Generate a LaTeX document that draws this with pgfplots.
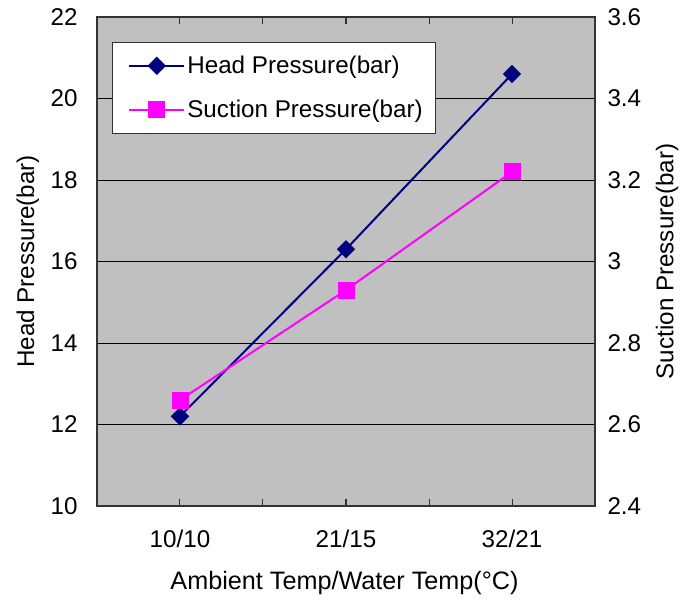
\documentclass[border=0pt]{standalone}
\usepackage{fontspec}
\setmainfont{Liberation Sans}
\usepackage{pgfplots}
\pgfplotsset{compat=1.18}

\definecolor{plotgray}{RGB}{192,192,192}
\definecolor{headblue}{RGB}{0,0,128}
\definecolor{suctionpink}{RGB}{255,0,255}

\pgfplotsset{
  common/.style={
    width=498pt, height=489pt, scale only axis,
    xmin=-0.5, xmax=2.5,
    font=\fontsize{24.2}{29}\selectfont,
    /pgf/number format/assume math mode=true,
    axis line style={black!80, line width=1.2pt},
    ytick style={draw=none},
  },
}

\begin{document}
\begin{tikzpicture}
\begin{axis}[
    common,
    name=main,
    axis background/.style={fill=plotgray},
    ymin=10, ymax=22,
    ytick={10,12,14,16,18,20,22},
    ymajorgrids=true,
    grid style={black, line width=0.8pt},
    xtick={0,1,2},
    xticklabels={10/10,21/15,32/21},
    minor xtick={0.5,1.5},
    tick align=inside,
    xtick style={black!80, line width=1pt},
    major tick length=7pt, minor tick length=7pt,
    xticklabel style={yshift=-20pt},
    yticklabel style={xshift=-16pt},
    ylabel={Head Pressure(bar)},
    ylabel style={at={(axis description cs:-0.139,0.5)}, anchor=center},
    xlabel={Ambient Temp/Water Temp(°C)},
    xlabel style={at={(axis description cs:0.497,-0.158)}, anchor=center,
        font=\fontsize{25.2}{30}\selectfont},
]
\addplot[headblue, line width=2pt, mark=square*, mark size=5.5pt,
    mark options={rotate=45}]
    coordinates {(0,12.2) (1,16.3) (2,20.6)};
\end{axis}

\begin{axis}[
    common,
    axis x line=none,
    axis y line*=right,
    ymin=2.4, ymax=3.6,
    ytick={2.4,2.6,2.8,3,3.2,3.4,3.6},
    yticklabel style={xshift=9pt},
    ylabel={Suction Pressure(bar)},
    ylabel style={at={(axis description cs:1.145,0.5)}, anchor=center},
    legend style={
        at={(0.030,0.949)}, anchor=north west,
        draw=black!80, line width=0.8pt, fill=white,
        inner xsep=16pt, inner ysep=12pt,
        row sep=21pt,
    },
    legend cell align=left,
    legend image code/.code={
        \draw[mark repeat=2, mark phase=2]
            plot coordinates {(0pt,0pt) (27.5pt,0pt) (55pt,0pt)};
    },
]
\addlegendimage{headblue, line width=2pt, mark=square*, mark size=5.5pt,
    mark options={rotate=45}}
\addlegendentry{\makebox[230pt][l]{Head Pressure(bar)}}
\addplot[suctionpink, line width=2pt, mark=square*, mark size=7.5pt]
    coordinates {(0,2.66) (1,2.93) (2,3.22)};
\addlegendentry{\makebox[230pt][l]{Suction Pressure(bar)}}
\end{axis}

\path ([xshift=-97pt,yshift=-98pt]main.south west) rectangle ++(683pt,604pt);
\end{tikzpicture}
\end{document}
